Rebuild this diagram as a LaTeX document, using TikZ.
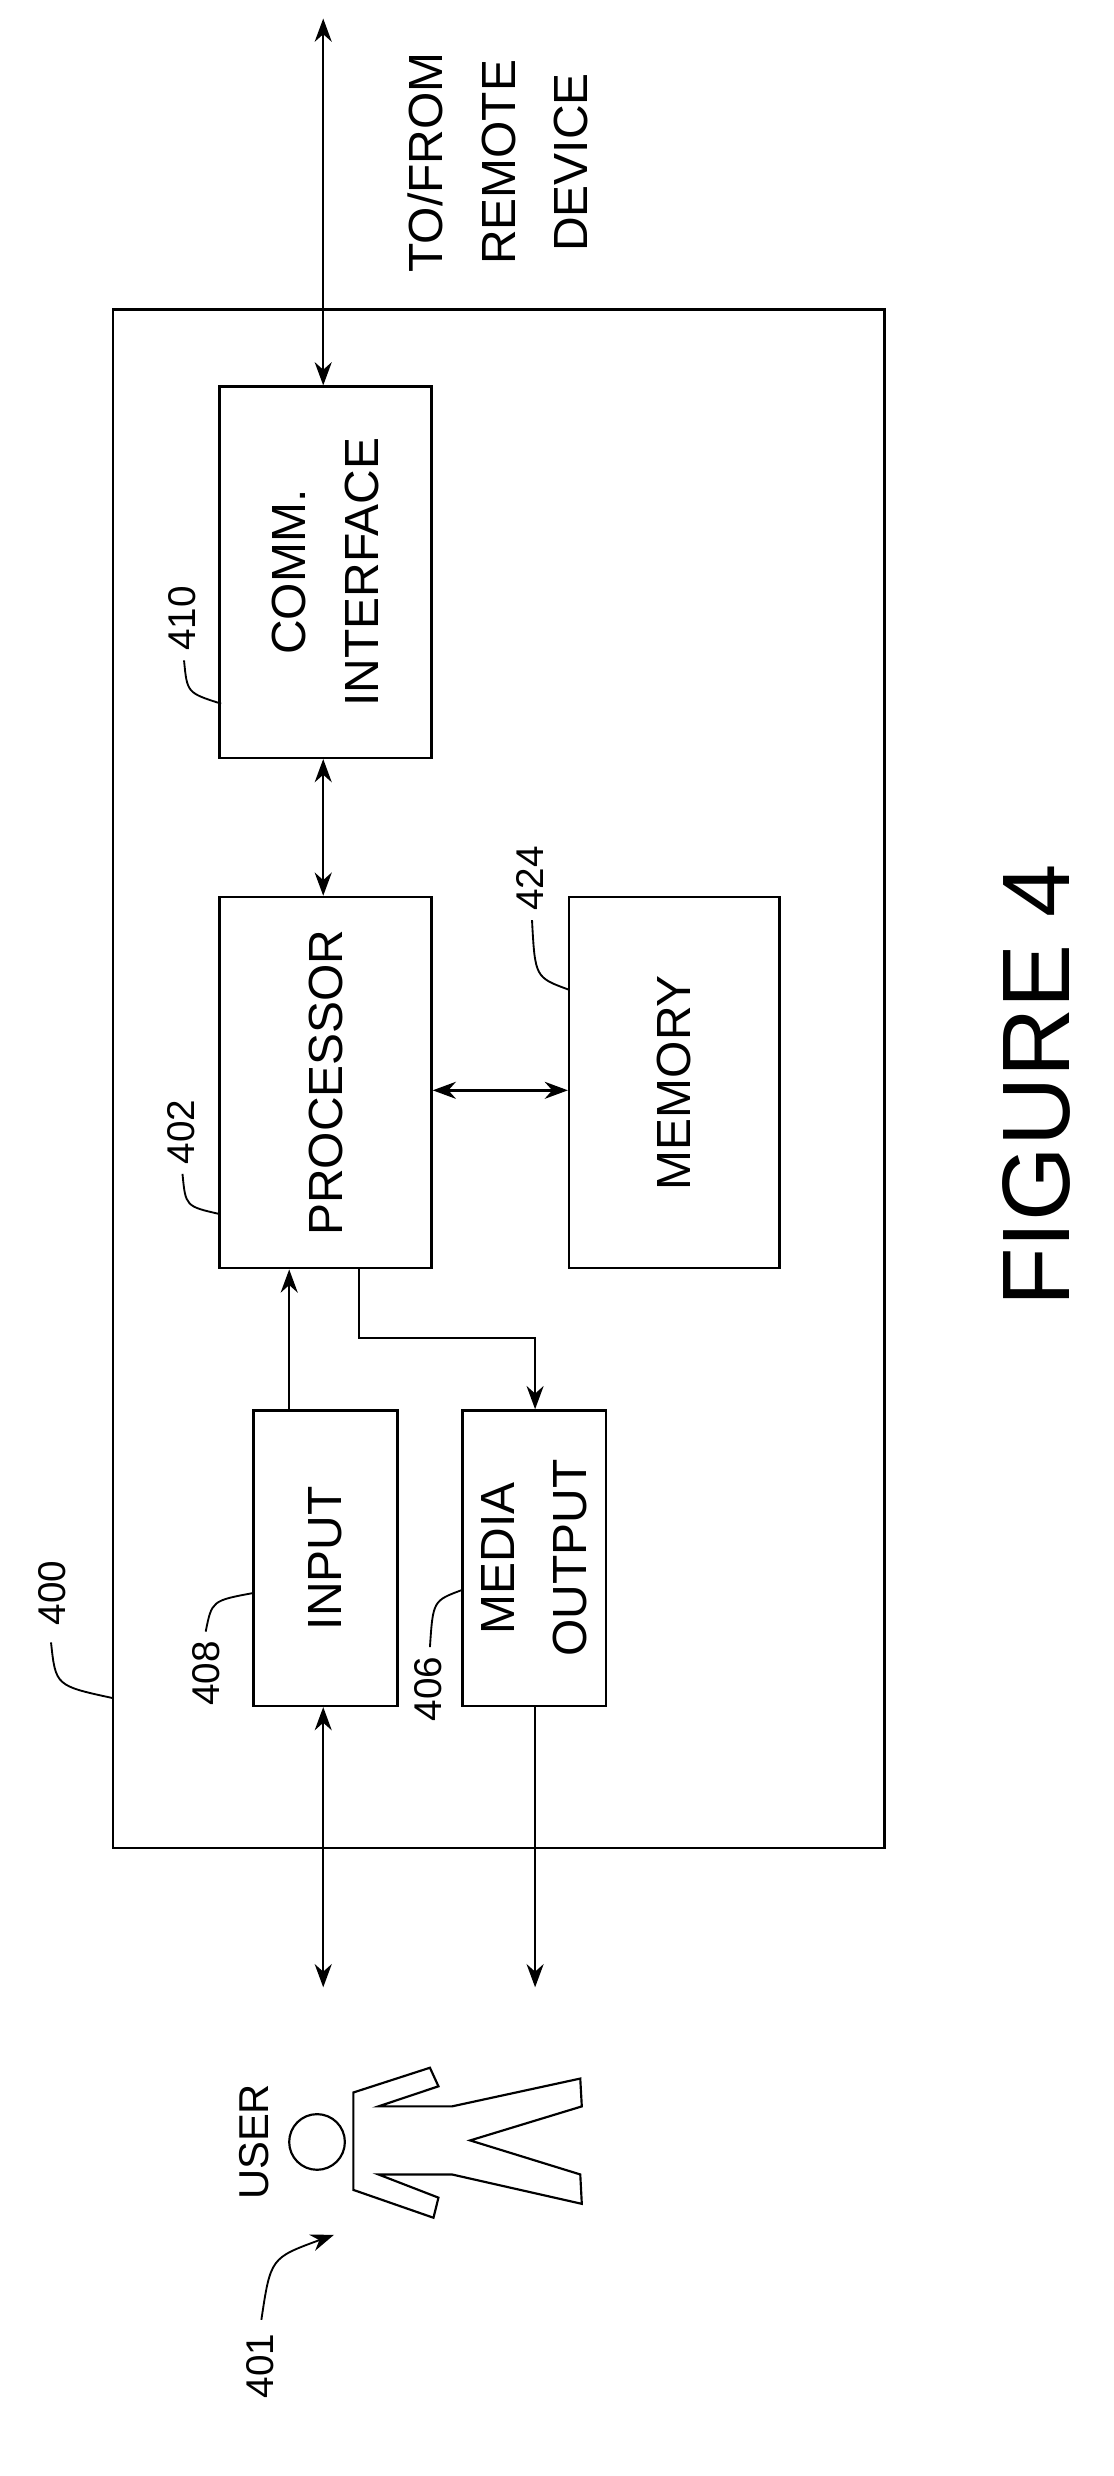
\documentclass[tikz,border=0pt]{standalone}
\usepackage{fontspec}
\setmainfont{Liberation Sans}
\usetikzlibrary{arrows.meta}
\begin{document}
\begin{tikzpicture}[x=1pt,y=-1pt,
 box/.style={draw,line width=1.6pt},
 lbl/.style={rotate=90,font=\fontsize{31}{47}\selectfont,align=center},
 num/.style={rotate=90,font=\fontsize{25}{28}\selectfont},
 arr/.style={line width=1.6pt,-{Stealth[length=15pt,width=11pt]}},
 darr/.style={line width=1.6pt,{Stealth[length=15pt,width=11pt]}-{Stealth[length=15pt,width=11pt]}},
 lead/.style={line width=1.2pt}]
\useasboundingbox (0,0) rectangle (720,1601);
\draw[box] (73,200) rectangle (572,1195);
\node[box,minimum width=137pt,minimum height=240pt] (comm) at (210.5,370) {};
\node[lbl] at (comm) {COMM.\\INTERFACE};
\node[box,minimum width=137pt,minimum height=240pt] (proc) at (210.5,700) {};
\node[lbl] at (proc) {PROCESSOR};
\node[box,minimum width=136pt,minimum height=240pt] (mem) at (436,700) {};
\node[lbl] at (mem) {MEMORY};
\node[box,minimum width=93pt,minimum height=191pt] (inp) at (210.5,1007.5) {};
\node[lbl] at (inp) {INPUT};
\node[box,minimum width=93pt,minimum height=191pt] (med) at (345.5,1007.5) {};
\node[lbl] at (med) {MEDIA\\OUTPUT};
\coordinate (top) at (209,12);
\coordinate (ib) at (209,1285);
\coordinate (mb) at (346,1285);
\draw[darr] (top) -- (top |- comm.north);
\draw[darr] (comm.south -| 209,0) -- (proc.north -| 209,0);
\draw[darr] (proc.east |- 0,705) -- (mem.west |- 0,705);
\draw[arr] (inp.north -| 187,0) -- (proc.south -| 187,0);
\draw[arr] (proc.south -| 232,0) -- (232,865) -- (346,865) -- (med.north -| 346,0);
\draw[darr] (inp.south -| 209,0) -- (ib);
\draw[arr] (med.south -| 346,0) -- (mb);
\node[lbl,anchor=center] (remote) at (322,105) {TO/FROM\\REMOTE\\DEVICE};
\node[num] (n410) at (118,400) {410};
\draw[lead] (119,427) .. controls (121,448) .. (143,455);
\node[num] (n402) at (117,732) {402};
\draw[lead] (118,759) .. controls (120,780) .. (142,785);
\node[num] (n424) at (343,568) {424};
\draw[lead] (344,595) .. controls (346,632) .. (368,640);
\node[num] (n408) at (133,1082) {408};
\draw[lead] (133,1055) .. controls (137,1035) .. (164,1030);
\node[num] (n406) at (277,1092) {406};
\draw[lead] (278,1065) .. controls (280,1035) .. (299,1028);
\node[num] (n400) at (34,1030) {400};
\draw[lead] (33,1062) .. controls (36,1090) .. (73,1098);
\node[num] (n401) at (168,1530) {401};
\draw[arr,line width=1.2pt] (169,1500) .. controls (175,1460) .. (216,1445);
\node[lbl,font=\fontsize{27}{30}\selectfont] (user) at (164,1385) {USER};
\node[draw,circle,line width=1.4pt,minimum size=36pt,inner sep=0pt] (head) at (205,1385) {};
\draw[line width=1.4pt] (228.5,1353) -- (278,1337) -- (283.5,1349) -- (244.7,1362) -- (292.2,1362) -- (375.2,1344) -- (376.2,1362) -- (304,1384) -- (375.2,1406) -- (376.2,1425) -- (292.2,1406) -- (244.7,1406) -- (283.5,1421) -- (280.3,1434) -- (228.5,1416) -- cycle;
\node[rotate=90,font=\fontsize{62}{66}\selectfont] (fig) at (670,702) {FIGURE 4};
\end{tikzpicture}
\end{document}
